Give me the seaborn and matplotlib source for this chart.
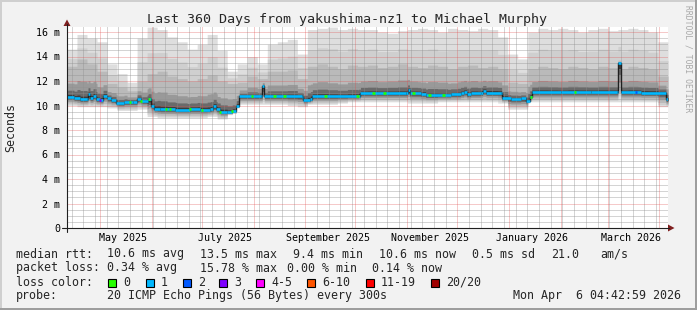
import numpy as np
import pandas as pd
import matplotlib
matplotlib.use("Agg")
import matplotlib.pyplot as plt
from matplotlib.lines import Line2D
from matplotlib.patches import Polygon, Rectangle
import seaborn as sns
from datetime import datetime, timedelta

# ---------------- data ----------------
TITLE = "Last 360 Days from yakushima-nz1 to Michael Murphy"
START = datetime(2025, 4, 11, 4, 42, 59)
SPAN_DAYS = 360

# median rtt (ms), step breakpoints; x = days since START
med_days = [0, 4.2, 7.8, 12, 12.6, 13.8, 15.6, 17.4, 19.8, 21.6, 24, 26.4, 29.4, 34.2,
            39.6, 42, 44.4, 48.6, 50.4, 52.2, 55.8, 64.8, 73.8, 79.8, 85.8, 87.6, 89.4,
            91.8, 96, 99, 101.4, 103.2, 116.4, 117, 118.2, 141, 141.6, 145.8, 147,
            174.6, 175.8, 202.8, 204, 205.2, 211.8, 214.8, 229.8, 235.8, 237.6, 239.4,
            241.8, 247.8, 249, 251, 259.8, 260.4, 265.8, 271.8, 274.8, 277.2, 278.4,
            295.8, 313.8, 329.4, 330, 331.8, 343.8, 358.8, 360]
med_vals = [10.7, 10.6, 10.5, 10.55, 10.9, 10.6, 10.8, 10.5, 10.45, 10.8, 10.6, 10.45, 10.2, 10.3,
            10.3, 10.55, 10.35, 10.5, 10.0, 9.75, 9.7, 9.65, 9.7, 9.65, 9.7, 9.95, 9.7,
            9.5, 9.45, 9.55, 10.0, 10.75, 10.75, 11.6, 10.75, 10.7, 10.45, 10.55, 10.75,
            10.8, 11.0, 11.0, 11.25, 11.0, 10.95, 10.85, 10.9, 11.0, 11.1, 10.9,
            11.0, 11.05, 11.2, 11.05, 11.05, 10.6, 10.55, 10.6, 10.4, 10.7, 11.1,
            11.1, 11.1, 11.1, 13.5, 11.1, 11.05, 10.5, 10.5]

# smoke envelope per 6-day bin (ms)
smoke_max = [14.6, 15.8, 15.5, 15.2, 13.4, 12.6, 11.9, 15.5, 16.4, 16.2,
             15.6, 15.2, 14.6, 15.0, 15.8, 14.5, 12.8, 13.4, 14.0, 13.4,
             15.0, 15.2, 15.4, 14.2, 16.2, 16.3, 16.4, 16.2, 16.3, 16.2,
             16.2, 16.0, 15.9, 16.1, 16.2, 16.3, 16.2, 16.0, 16.3, 16.2,
             16.1, 16.3, 16.2, 15.6, 14.2, 13.8, 16.0, 16.3, 16.2, 16.3,
             16.2, 16.0, 16.2, 16.3, 16.1, 16.2, 16.3, 16.2, 16.0, 15.2]
smoke_hi = [13.2, 13.8, 13.4, 12.8, 11.8, 11.5, 11.2, 12.0, 12.6, 12.8,
            12.4, 12.2, 12.0, 12.2, 12.5, 12.0, 11.8, 11.9, 12.4, 12.2,
            12.8, 12.8, 12.9, 12.2, 13.2, 13.4, 13.2, 13.0, 13.3, 13.2,
            13.3, 13.1, 13.2, 13.4, 13.2, 13.1, 13.3, 13.2, 13.0, 13.2,
            13.3, 13.1, 13.2, 13.0, 11.9, 11.8, 13.0, 13.2, 13.1, 13.0,
            13.2, 13.1, 13.0, 13.2, 13.1, 13.0, 13.2, 13.1, 13.0, 12.4]
smoke_lo = [10.0, 9.9, 9.9, 9.9, 9.8, 9.6, 9.6, 9.7, 9.1, 9.0,
            9.0, 9.0, 9.0, 9.0, 9.1, 8.9, 10.0, 10.1, 10.1, 10.1,
            10.1, 10.1, 10.0, 9.9, 10.1, 10.1, 10.1, 10.2, 10.3, 10.3,
            10.3, 10.3, 10.3, 10.3, 10.2, 10.2, 10.2, 10.3, 10.3, 10.3,
            10.3, 10.3, 10.3, 10.2, 9.7, 9.7, 10.3, 10.3, 10.3, 10.3,
            10.3, 10.3, 10.3, 10.3, 10.3, 10.3, 10.3, 10.3, 10.3, 9.9]

loss0_days = [37.8, 44.4, 49.2, 59.4, 61.8, 73.8, 81, 91.8, 99, 111, 124.2, 130.2,
              154.8, 174, 183.6, 190.2, 207.6, 217.2, 225.6, 277.8, 304.2]
loss2_days = [340.8]
loss3_days = [19.8]

y_ticks = [0, 2, 4, 6, 8, 10, 12, 14, 16]
y_labels = ["0", "2 m", "4 m", "6 m", "8 m", "10 m", "12 m", "14 m", "16 m"]
label_months = [(2025, 5), (2025, 7), (2025, 9), (2025, 11), (2026, 1), (2026, 3)]
x_labels = ["May 2025", "July 2025", "September 2025", "November 2025",
            "January 2026", "March 2026"]

loss_names = ["0", "1", "2", "3", "4-5", "6-10", "11-19", "20/20"]
loss_colors = ["#26ff00", "#00b8ff", "#0059ff", "#7e00ff", "#ff00ff", "#ff5500", "#ff0000", "#a10000"]

legend_rtt = [(16, "median rtt:"), (107.3, "10.6 ms avg"), (200, "13.5 ms max"),
              (293.3, "9.4 ms min"), (379.3, "10.6 ms now"), (472.3, "0.5 ms sd"),
              (551.3, "21.0"), (600, "am/s")]
legend_loss = [(16, "packet loss:"), (107.3, "0.34 % avg"), (200, "15.78 % max"),
               (286.7, "0.00 % min"), (372.3, "0.14 % now")]
probe_text = "20 ICMP Echo Pings (56 Bytes) every 300s"
stamp_text = "Mon Apr  6 04:42:59 2026"

# ---------------- style ----------------
W, H = 697, 310
sns.set_style("white")
plt.rcParams["font.family"] = ["DejaVu Sans Mono"]
FS = 8.4
FS_AX = 7.2

BG = (0.95, 0.95, 0.95)
SHADE_A = (0.81, 0.81, 0.81)
SHADE_B = (0.62, 0.62, 0.62)
GRID = (0.56, 0.56, 0.56, 0.75)
MGRID = (0.87, 0.31, 0.31, 0.6)
ARROW = (0.5, 0.12, 0.12)
AXIS = (0.12, 0.12, 0.12)

fig = plt.figure(figsize=(W / 100, H / 100), dpi=100, facecolor=BG)

def fx(px):
    return px / W

def fy(py):
    return 1 - py / H

X0, X1, Y0, Y1 = 67, 668, 228, 27
ax = fig.add_axes([fx(X0), fy(Y0), (X1 - X0) / W, (Y0 - Y1) / H])
ax.set_facecolor("white")
ax.set_xlim(0, SPAN_DAYS)
ymax = (Y0 - Y1) / 12.25
ax.set_ylim(0, ymax)
for s in ax.spines.values():
    s.set_visible(False)

# ---------------- smoke ----------------
med_days_a = np.array(med_days, float)
med_vals_a = np.array(med_vals, float)
xf = np.linspace(0, SPAN_DAYS, 7201)
mi = np.clip(np.searchsorted(med_days_a, xf, side="right") - 1, 0, len(med_vals_a) - 1)
medf = med_vals_a[mi]
bi = np.clip((xf // 6).astype(int), 0, len(smoke_max) - 1)
topf = np.maximum(np.array(smoke_max)[bi], medf + 0.3)
hif = np.maximum(np.array(smoke_hi)[bi], medf + 0.2)
lof = np.minimum(np.array(smoke_lo)[bi], medf - 0.2)
dlo = medf - lof
layers = [
    (lof, topf, "#dedede"),
    (medf - 0.85 * dlo, hif + 0.45 * (topf - hif), "#cfcfcf"),
    (medf - 0.7 * dlo, hif, "#bababa"),
    (medf - 0.5 * dlo, medf + 0.45 * (hif - medf), "#999999"),
    (medf - 0.3 * dlo, medf + 0.22 * (hif - medf), "#6a6a6a"),
    (medf - 0.15 * dlo, medf + 0.08 * (hif - medf), "#3c3c3c"),
]
for lo_, hi_, c in layers:
    ax.fill_between(xf, lo_, hi_, color=c, lw=0, zorder=1)

# ---------------- grid ----------------
def days_of(dt):
    return (dt - START).total_seconds() / 86400.0

month_starts = []
y, m = START.year, START.month
while True:
    m += 1
    if m > 12:
        m, y = 1, y + 1
    d = days_of(datetime(y, m, 1))
    if d > SPAN_DAYS:
        break
    month_starts.append(d)

first_monday = START.date() + timedelta(days=(7 - START.weekday()) % 7)
mondays = []
dt = datetime(first_monday.year, first_monday.month, first_monday.day)
while days_of(dt) <= SPAN_DAYS:
    mondays.append(days_of(dt))
    dt += timedelta(days=7)

dash = (0, (1, 1))
for v in np.arange(0.5, ymax, 0.5):
    if abs(v % 2) > 1e-6:
        ax.axhline(v, color=GRID, lw=0.72, ls=dash, zorder=2)
for d in mondays:
    if min(abs(d - ms) for ms in month_starts) > 0.5:
        ax.axvline(d, color=GRID, lw=0.72, ls=dash, zorder=2)
for v in y_ticks[1:]:
    ax.axhline(v, color=MGRID, lw=0.72, ls=dash, zorder=2)
for d in month_starts:
    ax.axvline(d, color=MGRID, lw=0.72, ls=dash, zorder=2)

# ---------------- median line ----------------
df = pd.DataFrame({"day": med_days, "rtt": med_vals})
sns.lineplot(data=df, x="day", y="rtt", drawstyle="steps-post", color="#202020",
             lw=1.0, estimator=None, sort=False, ax=ax, zorder=4)
ax.hlines(med_vals_a[:-1], med_days_a[:-1], med_days_a[1:], color=loss_colors[1],
          lw=1.9, zorder=5)

def med_at(d):
    return med_vals_a[np.clip(np.searchsorted(med_days_a, d, side="right") - 1, 0, len(med_vals_a) - 1)]

for days, col in [(loss0_days, loss_colors[0]), (loss2_days, loss_colors[2]), (loss3_days, loss_colors[3])]:
    dd = np.array(days, float)
    ax.hlines(med_at(dd), dd - 0.7, dd + 0.7, color=col, lw=1.9, zorder=6)

# ---------------- axes / ticks ----------------
ax.set_yticks(y_ticks)
ax.set_yticklabels(y_labels)
ax.tick_params(axis="y", length=2.9, width=0.72, color=MGRID, pad=2.2,
               labelsize=FS_AX, labelcolor="black")
centers = []
for (yy, mm) in label_months:
    a = datetime(yy, mm, 1)
    b = datetime(yy + (mm // 12), mm % 12 + 1, 1)
    centers.append((days_of(a) + days_of(b)) / 2 - 1.5)
ax.set_xticks(centers)
ax.set_xticklabels(x_labels)
ax.tick_params(axis="x", length=0, pad=3.3, labelsize=FS_AX, labelcolor="black")
ax.set_xlabel("")
ax.set_ylabel("")
fig.text(fx(10.5), fy(127), "Seconds", rotation=90, ha="center", va="center", fontsize=FS)

# axis lines and arrows
fig.add_artist(Line2D([fx(62), fx(669)], [fy(Y0), fy(Y0)], color=AXIS, lw=0.8))
fig.add_artist(Line2D([fx(X0), fx(X0)], [fy(232), fy(24)], color=AXIS, lw=0.8))
fig.add_artist(Polygon([[fx(668), fy(224.5)], [fx(668), fy(231.5)], [fx(674.5), fy(228)]],
                       closed=True, color=ARROW, lw=0))
fig.add_artist(Polygon([[fx(63.5), fy(26)], [fx(70.5), fy(26)], [fx(67), fy(19.5)]],
                       closed=True, color=ARROW, lw=0))

# ---------------- texts ----------------
fig.text(fx(347), fy(19), TITLE, ha="center", va="center", fontsize=9.6)
fig.text(fx(688), fy(5), "RRDTOOL / TOBI OETIKER", rotation=270, ha="center", va="top",
         fontsize=5.8, color="#a8a8a8")
for xp, t in legend_rtt:
    fig.text(fx(xp), fy(254), t, ha="left", va="center", fontsize=FS)
for xp, t in legend_loss:
    fig.text(fx(xp), fy(268), t, ha="left", va="center", fontsize=FS)
fig.text(fx(16), fy(282), "loss color:", ha="left", va="center", fontsize=FS)
box_x = [108.3, 145.7, 182.7, 219.3, 256, 307.3, 365.7, 430.7]
for bx, name, col in zip(box_x, loss_names, loss_colors):
    fig.add_artist(Rectangle((fx(bx), fy(286.5)), 8 / W, 8 / H, facecolor=col,
                             edgecolor="black", lw=0.8))
    fig.text(fx(bx + 15), fy(282), name, ha="left", va="center", fontsize=FS)
fig.text(fx(16), fy(296), "probe:", ha="left", va="center", fontsize=FS)
fig.text(fx(107.3), fy(296), probe_text, ha="left", va="center", fontsize=FS)
fig.text(fx(681), fy(296), stamp_text, ha="right", va="center", fontsize=FS)

# ---------------- frame shading ----------------
fig.add_artist(Rectangle((0, 1 - 2 / H), 1, 2 / H, facecolor=SHADE_A, lw=0))
fig.add_artist(Rectangle((0, 0), 2 / W, 1, facecolor=SHADE_A, lw=0))
fig.add_artist(Rectangle((0, 0), 1, 2 / H, facecolor=SHADE_B, lw=0))
fig.add_artist(Rectangle((1 - 2 / W, 0), 2 / W, 1, facecolor=SHADE_B, lw=0))

fig.savefig("out.png", dpi=100, facecolor=BG)
